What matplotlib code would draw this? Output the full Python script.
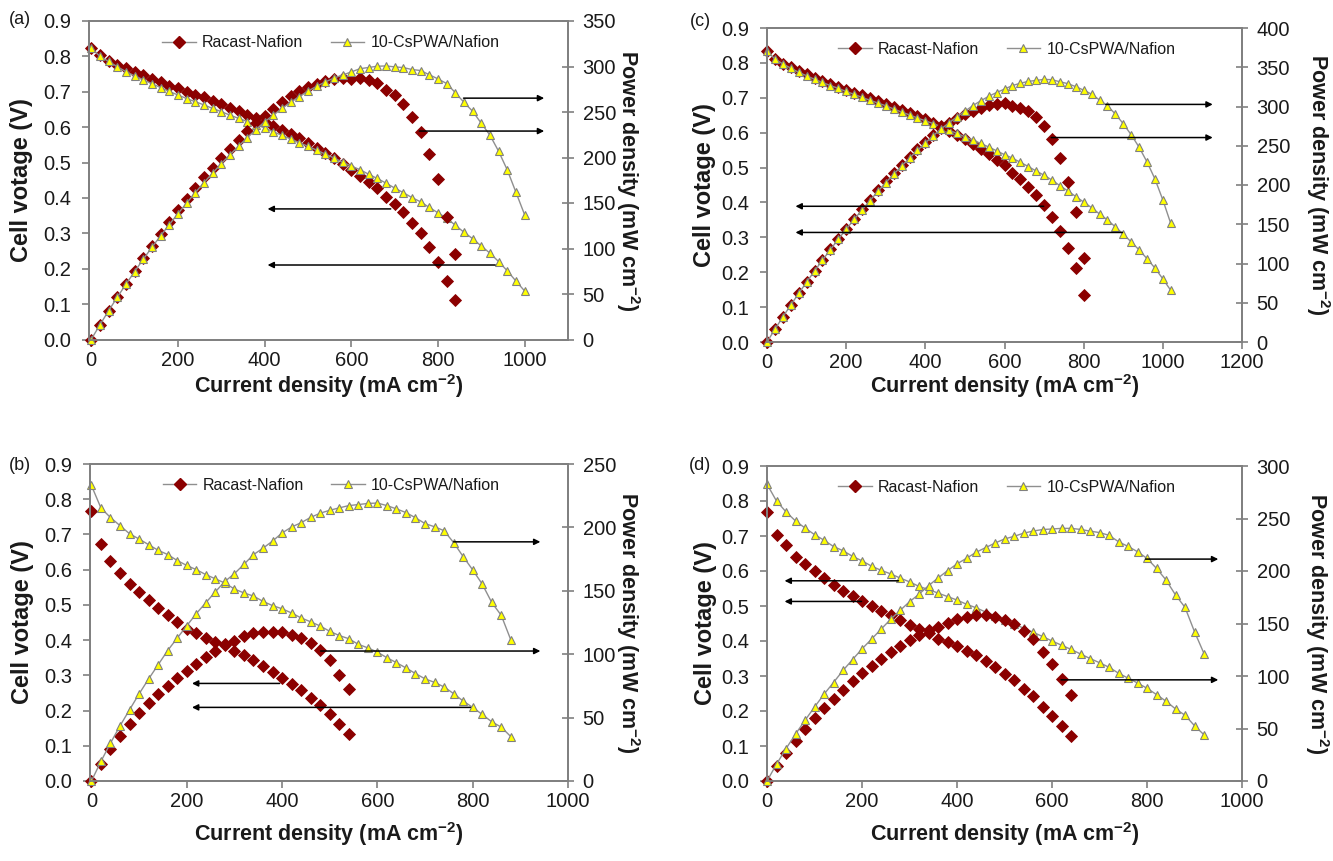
import matplotlib
matplotlib.use('Agg')
import matplotlib.pyplot as plt
from matplotlib.lines import Line2D
from matplotlib.ticker import FormatStrFormatter

plt.rcParams['font.family'] = ['Liberation Sans', 'DejaVu Sans']
plt.rcParams['mathtext.fontset'] = 'custom'
plt.rcParams['mathtext.rm'] = 'Liberation Sans:bold'
plt.rcParams['mathtext.default'] = 'rm'

# ---------------- data ----------------
# (a)
a_rac_I = [0, 20, 40, 60, 80, 100, 120, 140, 160, 180, 200, 220, 240, 260, 280, 300, 320, 340, 360, 380,
           400, 420, 440, 460, 480, 500, 520, 540, 560, 580, 600, 620, 640, 660, 680, 700, 720, 740, 760, 780,
           800, 820, 840]
a_rac_V = [0.825, 0.803, 0.788, 0.776, 0.766, 0.756, 0.746, 0.736, 0.727, 0.717, 0.710, 0.700, 0.692, 0.685,
           0.675, 0.665, 0.655, 0.645, 0.635, 0.625, 0.615, 0.604, 0.592, 0.582, 0.568, 0.555, 0.541, 0.527,
           0.512, 0.496, 0.478, 0.463, 0.446, 0.427, 0.404, 0.384, 0.360, 0.330, 0.300, 0.261, 0.220, 0.164, 0.112]
a_rac_P = [0, 16.1, 31.5, 46.6, 61.3, 75.6, 89.5, 103.0, 116.3, 129.1, 142.0, 154.0, 166.1, 178.1, 189.0,
           199.5, 209.6, 219.3, 228.6, 237.5, 246.0, 253.7, 260.5, 267.7, 272.6, 277.5, 281.3, 284.6, 286.7,
           287.7, 286.8, 287.1, 285.4, 281.8, 274.7, 268.8, 259.2, 244.2, 228.0, 203.6, 176.0, 134.5, 94.1]
a_cs_I = [0, 20, 40, 60, 80, 100, 120, 140, 160, 180, 200, 220, 240, 260, 280, 300, 320, 340, 360, 380,
          400, 420, 440, 460, 480, 500, 520, 540, 560, 580, 600, 620, 640, 660, 680, 700, 720, 740, 760, 780,
          800, 820, 840, 860, 880, 900, 920, 940, 960, 980, 1000]
a_cs_V = [0.825, 0.800, 0.786, 0.771, 0.757, 0.745, 0.734, 0.723, 0.712, 0.701, 0.691, 0.681, 0.672, 0.663,
          0.653, 0.644, 0.634, 0.625, 0.616, 0.607, 0.598, 0.587, 0.577, 0.567, 0.556, 0.546, 0.535, 0.524,
          0.513, 0.501, 0.490, 0.480, 0.467, 0.455, 0.442, 0.428, 0.415, 0.401, 0.389, 0.373, 0.358, 0.343,
          0.323, 0.303, 0.285, 0.264, 0.244, 0.220, 0.194, 0.165, 0.137]
a_cs_P = [0, 16.0, 31.4, 46.3, 60.6, 74.5, 88.1, 101.2, 113.9, 126.2, 138.2, 149.8, 161.3, 172.4, 182.8,
          193.2, 202.9, 212.5, 221.8, 230.7, 239.2, 246.5, 253.9, 260.8, 266.9, 273.0, 278.2, 283.0, 287.3,
          290.6, 294.0, 297.6, 298.9, 300.3, 300.6, 299.6, 298.8, 296.7, 295.6, 290.9, 286.4, 281.3, 271.3,
          260.6, 250.8, 237.6, 224.5, 206.8, 186.2, 161.7, 137.0]

# (c)
c_rac_I = [0, 20, 40, 60, 80, 100, 120, 140, 160, 180, 200, 220, 240, 260, 280, 300, 320, 340, 360, 380,
           400, 420, 440, 460, 480, 500, 520, 540, 560, 580, 600, 620, 640, 660, 680, 700, 720, 740, 760, 780,
           800]
c_rac_V = [0.834, 0.812, 0.797, 0.787, 0.777, 0.767, 0.757, 0.748, 0.739, 0.731, 0.722, 0.715, 0.707, 0.698,
           0.690, 0.682, 0.673, 0.665, 0.656, 0.647, 0.638, 0.629, 0.619, 0.606, 0.594, 0.581, 0.567, 0.553,
           0.538, 0.523, 0.507, 0.485, 0.466, 0.445, 0.421, 0.393, 0.359, 0.317, 0.269, 0.213, 0.134]
c_rac_P = [0, 16.2, 31.9, 47.2, 62.2, 76.7, 90.8, 104.7, 118.2, 131.6, 144.4, 157.3, 169.7, 181.5, 193.2,
           204.6, 215.4, 226.1, 236.2, 245.9, 255.2, 264.2, 272.4, 278.8, 285.1, 290.5, 294.8, 298.6, 301.3,
           303.3, 304.2, 300.7, 298.2, 293.7, 286.3, 275.1, 258.5, 234.6, 204.4, 166.1, 107.2]
c_cs_I = [0, 20, 40, 60, 80, 100, 120, 140, 160, 180, 200, 220, 240, 260, 280, 300, 320, 340, 360, 380,
          400, 420, 440, 460, 480, 500, 520, 540, 560, 580, 600, 620, 640, 660, 680, 700, 720, 740, 760, 780,
          800, 820, 840, 860, 880, 900, 920, 940, 960, 980, 1000, 1020]
c_cs_V = [0.834, 0.811, 0.797, 0.785, 0.773, 0.763, 0.753, 0.744, 0.735, 0.727, 0.718, 0.710, 0.701, 0.693,
          0.685, 0.677, 0.668, 0.659, 0.651, 0.642, 0.634, 0.626, 0.617, 0.607, 0.598, 0.588, 0.579, 0.569,
          0.559, 0.548, 0.537, 0.527, 0.515, 0.503, 0.490, 0.478, 0.464, 0.448, 0.433, 0.417, 0.401, 0.385,
          0.367, 0.350, 0.330, 0.309, 0.287, 0.264, 0.239, 0.212, 0.181, 0.148]
c_cs_P = [0, 16.2, 31.9, 47.1, 61.8, 76.3, 90.4, 104.2, 117.6, 130.9, 143.6, 156.2, 168.2, 180.2, 191.8,
          203.1, 213.8, 224.1, 234.4, 244.0, 253.6, 262.9, 271.5, 279.2, 287.0, 294.0, 301.1, 307.3, 313.0,
          317.8, 322.2, 326.7, 329.6, 332.0, 333.2, 334.6, 334.1, 331.5, 329.1, 325.3, 320.8, 315.7, 308.3,
          301.0, 290.4, 278.1, 264.0, 248.2, 229.4, 207.8, 181.0, 151.0]

# (b)
b_rac_I = [0, 20, 40, 60, 80, 100, 120, 140, 160, 180, 200, 220, 240, 260, 280, 300, 320, 340, 360, 380,
           400, 420, 440, 460, 480, 500, 520, 540]
b_rac_V = [0.767, 0.672, 0.626, 0.591, 0.560, 0.536, 0.513, 0.490, 0.470, 0.451, 0.432, 0.421, 0.406, 0.395,
           0.385, 0.369, 0.357, 0.343, 0.326, 0.310, 0.293, 0.274, 0.257, 0.236, 0.215, 0.191, 0.161, 0.134]
b_rac_P = [0, 13.4, 25.0, 35.5, 44.8, 53.6, 61.6, 68.6, 75.2, 81.2, 86.4, 92.6, 97.4, 102.7, 107.8, 110.7,
           114.2, 116.6, 117.4, 117.8, 117.2, 115.1, 113.1, 108.6, 103.2, 95.5, 83.7, 72.4]
b_cs_I = [0, 20, 40, 60, 80, 100, 120, 140, 160, 180, 200, 220, 240, 260, 280, 300, 320, 340, 360, 380,
          400, 420, 440, 460, 480, 500, 520, 540, 560, 580, 600, 620, 640, 660, 680, 700, 720, 740, 760, 780,
          800, 820, 840, 860, 880]
b_cs_V = [0.839, 0.775, 0.748, 0.725, 0.702, 0.687, 0.671, 0.655, 0.643, 0.626, 0.612, 0.600, 0.586, 0.574,
          0.562, 0.545, 0.534, 0.525, 0.510, 0.498, 0.489, 0.477, 0.463, 0.452, 0.440, 0.425, 0.413, 0.404,
          0.388, 0.378, 0.366, 0.350, 0.336, 0.321, 0.305, 0.290, 0.280, 0.267, 0.248, 0.227, 0.209, 0.189,
          0.168, 0.153, 0.126]
b_cs_P = [0, 15.5, 29.9, 43.5, 56.2, 68.7, 80.5, 91.7, 102.9, 112.7, 122.4, 132.0, 140.6, 149.2, 157.4,
          163.5, 170.9, 178.5, 183.6, 189.2, 195.6, 200.3, 203.7, 207.9, 211.2, 213.5, 215.4, 217.2, 218.0,
          218.9, 219.2, 217.2, 214.6, 211.7, 207.6, 203.0, 200.5, 197.4, 188.0, 177.0, 166.5, 155.3, 140.8,
          130.6, 111.3]

# (d)
d_rac_I = [0, 20, 40, 60, 80, 100, 120, 140, 160, 180, 200, 220, 240, 260, 280, 300, 320, 340, 360, 380,
           400, 420, 440, 460, 480, 500, 520, 540, 560, 580, 600, 620, 640]
d_rac_V = [0.770, 0.704, 0.675, 0.640, 0.619, 0.599, 0.579, 0.561, 0.543, 0.530, 0.514, 0.499, 0.485, 0.473,
           0.459, 0.447, 0.433, 0.424, 0.407, 0.397, 0.385, 0.371, 0.359, 0.343, 0.326, 0.306, 0.288, 0.264,
           0.242, 0.211, 0.186, 0.157, 0.128]
d_rac_P = [0, 14.1, 27.0, 38.4, 49.5, 59.9, 69.5, 78.5, 86.9, 95.4, 102.8, 109.8, 116.4, 123.0, 128.5,
           134.1, 138.6, 144.2, 146.5, 150.9, 154.0, 155.8, 158.0, 157.8, 156.5, 153.0, 149.8, 142.6, 135.5,
           122.4, 111.6, 97.3, 81.9]
d_cs_I = [0, 20, 40, 60, 80, 100, 120, 140, 160, 180, 200, 220, 240, 260, 280, 300, 320, 340, 360, 380,
          400, 420, 440, 460, 480, 500, 520, 540, 560, 580, 600, 620, 640, 660, 680, 700, 720, 740, 760, 780,
          800, 820, 840, 860, 880, 900, 920]
d_cs_V = [0.848, 0.800, 0.769, 0.743, 0.723, 0.704, 0.688, 0.670, 0.658, 0.642, 0.629, 0.614, 0.602, 0.592,
          0.580, 0.569, 0.556, 0.547, 0.537, 0.527, 0.517, 0.505, 0.495, 0.483, 0.472, 0.461, 0.448, 0.437,
          0.425, 0.413, 0.400, 0.388, 0.376, 0.363, 0.350, 0.338, 0.325, 0.308, 0.294, 0.280, 0.265, 0.247,
          0.228, 0.206, 0.188, 0.158, 0.132]
d_cs_P = [0, 16.0, 30.8, 44.6, 57.8, 70.4, 82.6, 93.8, 105.3, 115.6, 125.8, 135.1, 144.5, 153.9, 162.4,
          170.7, 177.9, 186.0, 193.3, 200.3, 206.8, 212.1, 217.8, 222.2, 226.6, 230.5, 233.0, 236.0, 238.0,
          239.5, 240.0, 240.6, 240.6, 239.6, 238.0, 236.6, 234.0, 227.9, 223.4, 218.4, 212.0, 202.5, 191.5,
          177.2, 165.4, 142.2, 121.4]

series_names = ['Racast-Nafion', '10-CsPWA/Nafion']
left_ticks = [0.0, 0.1, 0.2, 0.3, 0.4, 0.5, 0.6, 0.7, 0.8, 0.9]

# ---------------- styles / layout ----------------
W, H = 1333, 861
RAC = '#8B0000'
CS_FACE = '#FFFF00'
CS_EDGE = '#808080'
LINE = '#8f8f8f'
SPINE = '#808080'
TXT = '#1a1a1a'
TICK_FS = 14.5
XLAB_FS = 15.5
YLAB_FS = 17
Y2LAB_FS = 15.5

panels = [
    dict(tag='(a)', box=(89, 568, 21, 339.5), xlim=(-5, 1100), xticks=[0, 200, 400, 600, 800, 1000],
         pmax=350, pticks=[0, 50, 100, 150, 200, 250, 300, 350],
         rac=(a_rac_I, a_rac_V, a_rac_P), cs=(a_cs_I, a_cs_V, a_cs_P),
         arrows=[(859, 0.682, 1045, 0.682), (757, 0.589, 1045, 0.589),
                 (691, 0.369, 407, 0.369), (932, 0.2105, 407, 0.2105)],
         lab=(-0.14, 1.125, -0.145), tagpos=(20, 20)),
    dict(tag='(c)', box=(767, 1242, 28, 342), xlim=(0, 1200), xticks=[0, 200, 400, 600, 800, 1000, 1200],
         pmax=400, pticks=[0, 50, 100, 150, 200, 250, 300, 350, 400],
         rac=(c_rac_I, c_rac_V, c_rac_P), cs=(c_cs_I, c_cs_V, c_cs_P),
         arrows=[(856, 0.681, 1126, 0.681), (718, 0.586, 1126, 0.586),
                 (699, 0.389, 72, 0.389), (898, 0.314, 72, 0.314)],
         lab=(-0.131, 1.16, -0.14), tagpos=(700, 22)),
    dict(tag='(b)', box=(90, 568, 464, 781), xlim=(-3, 1000), xticks=[0, 200, 400, 600, 800, 1000],
         pmax=250, pticks=[0, 50, 100, 150, 200, 250],
         rac=(b_rac_I, b_rac_V, b_rac_P), cs=(b_cs_I, b_cs_V, b_cs_P),
         arrows=[(760, 0.679, 942, 0.679), (481, 0.369, 942, 0.369),
                 (395, 0.277, 211, 0.277), (795, 0.209, 211, 0.209)],
         lab=(-0.142, 1.125, -0.166), tagpos=(20, 465)),
    dict(tag='(d)', box=(767, 1242, 466, 781), xlim=(0, 1000), xticks=[0, 200, 400, 600, 800, 1000],
         pmax=300, pticks=[0, 50, 100, 150, 200, 250, 300],
         rac=(d_rac_I, d_rac_V, d_rac_P), cs=(d_cs_I, d_cs_V, d_cs_P),
         arrows=[(277, 0.572, 37, 0.572), (199, 0.513, 37, 0.513),
                 (797, 0.634, 950, 0.634), (619, 0.289, 950, 0.289)],
         lab=(-0.13, 1.158, -0.167), tagpos=(700, 466)),
]

rac_style = dict(linestyle='none', marker='D', ms=5.8, mfc=RAC, mec=RAC, mew=0.6, clip_on=False)
cs_style = dict(linestyle='-', color=LINE, lw=1.0, marker='^', ms=6.2, mfc=CS_FACE, mec=CS_EDGE, mew=0.8,
                clip_on=False)

fig = plt.figure(figsize=(W / 100, H / 100), dpi=100)

for p in panels:
    l, r, t, b = p['box']
    ax = fig.add_axes([l / W, 1 - b / H, (r - l) / W, (b - t) / H])
    ax2 = ax.twinx()
    ax.set_zorder(1)
    ax2.set_zorder(2)
    ax.patch.set_visible(True)
    ax2.patch.set_visible(False)

    I_r, V_r, P_r = p['rac']
    I_c, V_c, P_c = p['cs']
    ax.plot(I_r, V_r, **rac_style)
    ax.plot(I_c, V_c, **cs_style)
    ax2.plot(I_r, P_r, **rac_style)
    ax2.plot(I_c, P_c, **cs_style)

    ax.set_xlim(*p['xlim'])
    ax.set_ylim(0, 0.9)
    ax2.set_ylim(0, p['pmax'])
    ax.set_xticks(p['xticks'])
    ax.set_yticks(left_ticks)
    ax.yaxis.set_major_formatter(FormatStrFormatter('%.1f'))
    ax2.set_yticks(p['pticks'])

    for a in (ax, ax2):
        for s in a.spines.values():
            s.set_color(SPINE)
            s.set_linewidth(1.3)
    ax.tick_params(axis='x', direction='out', length=5, width=1.2, color=SPINE, labelsize=TICK_FS,
                   labelcolor=TXT, pad=3)
    ax.tick_params(axis='y', direction='out', length=5, width=1.2, color=SPINE, labelsize=TICK_FS,
                   labelcolor=TXT, pad=8)
    ax2.tick_params(axis='y', direction='inout', length=9, width=1.2, color=SPINE, labelsize=TICK_FS,
                    labelcolor=TXT, pad=6)

    lx, rx, xy = p['lab']
    ax.set_ylabel('Cell votage (V)', fontsize=YLAB_FS, fontweight='bold', color=TXT, va='center', ha='center')
    ax.yaxis.set_label_coords(lx, 0.5)
    ax2.set_ylabel('Power density (mW cm$^{-2}$)', fontsize=Y2LAB_FS, fontweight='bold', color=TXT,
                   rotation=270, va='center', ha='center')
    ax2.yaxis.set_label_coords(rx, 0.5)
    ax.set_xlabel('Current density (mA cm$^{-2}$)', fontsize=XLAB_FS, fontweight='bold', color=TXT,
                  va='center', ha='center')
    ax.xaxis.set_label_coords(0.5, xy)

    for (x0, y0, x1, y1) in p['arrows']:
        ax2.annotate('', xy=(x1, y1), xytext=(x0, y0), xycoords=ax.transData, textcoords=ax.transData,
                     arrowprops=dict(arrowstyle='-|>', color='black', lw=1.1, mutation_scale=9,
                                     shrinkA=0, shrinkB=0))

    handles = [Line2D([], [], color=LINE, lw=1.0, marker='D', ms=5.8, mfc=RAC, mec=RAC),
               Line2D([], [], color=LINE, lw=1.0, marker='^', ms=6.2, mfc=CS_FACE, mec=CS_EDGE, mew=0.8)]
    ax2.legend(handles, series_names, loc='center', bbox_to_anchor=(0.505, 0.932), ncol=2, frameon=False,
               fontsize=11.5, handlelength=2.1, columnspacing=1.7, handletextpad=0.4, labelcolor=TXT)

    tx, ty = p['tagpos']
    fig.text(tx / W, 1 - ty / H, p['tag'], fontsize=13, color=TXT, ha='center', va='center')

fig.savefig('out.png', dpi=100)
